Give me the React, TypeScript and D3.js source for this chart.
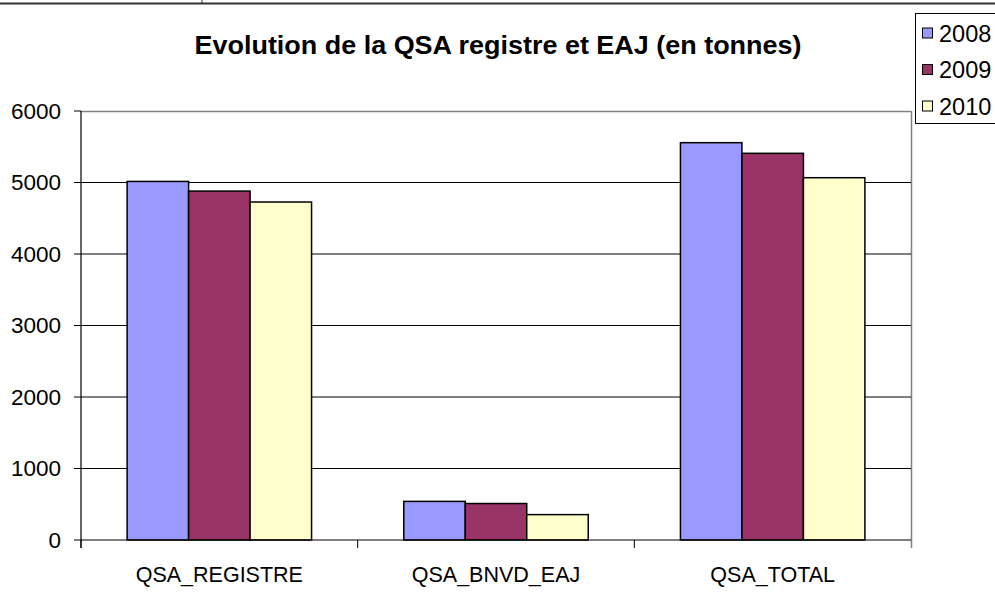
import React from "react";
import * as d3 from "d3";

const categories = ["QSA_REGISTRE", "QSA_BNVD_EAJ", "QSA_TOTAL"];
const years = ["2008", "2009", "2010"];
const values2008 = [5015, 540, 5557];
const values2009 = [4880, 510, 5408];
const values2010 = [4727, 355, 5067];
const yTicks = [0, 1000, 2000, 3000, 4000, 5000, 6000];
const colors = ["#9999FF", "#993366", "#FFFFCC"];
const title = "Evolution de la QSA registre et EAJ (en tonnes)";

const series = [values2008, values2009, values2010];

export default function App() {
  const W = 995;
  const H = 612;
  const left = 81;
  const right = 911;
  const top = 111;
  const bottom = 540;

  const x = d3.scaleBand<string>().domain(categories).range([left, right]).paddingInner(0).paddingOuter(0);
  const xi = d3.scaleBand<string>().domain(years).range([0, x.bandwidth()]).paddingInner(0).paddingOuter(0.75);
  const y = d3.scaleLinear().domain([0, 6000]).range([bottom, top]);

  const font = "'Liberation Sans', Arial, sans-serif";
  const xTickPos = [left, ...categories.map((c) => (x(c) as number) + x.bandwidth())];

  return (
    <svg
      width={W}
      height={H}
      style={{ position: "absolute", left: 0, top: 0, background: "#fff" }}
      fontFamily={font}
    >
      <rect x={0} y={0} width={W} height={H} fill="#fff" />
      {/* top frame line */}
      <line x1={0} x2={W} y1={3.5} y2={3.5} stroke="#333" strokeWidth={2} />
      <line x1={202} x2={202} y1={0} y2={3} stroke="#333" strokeWidth={1} />

      {/* title */}
      <text x={498} y={54} textAnchor="middle" fontSize={25.5} fontWeight="bold" fill="#000" textLength={607} lengthAdjust="spacingAndGlyphs">
        {title}
      </text>

      {/* plot border (grey) */}
      <line x1={left} x2={right} y1={top + 0.5} y2={top + 0.5} stroke="#808080" strokeWidth={1.5} />
      <line x1={right + 0.5} x2={right + 0.5} y1={top} y2={bottom + 8} stroke="#808080" strokeWidth={1.5} />

      {/* gridlines */}
      {yTicks.filter((t) => t > 0 && t < 6000).map((t) => (
        <line key={t} x1={left} x2={right} y1={y(t)} y2={y(t)} stroke="#000" strokeWidth={1} />
      ))}

      {/* bars */}
      {categories.map((c, ci) =>
        years.map((yr, si) => {
          const v = series[si][ci];
          const bx = (x(c) as number) + (xi(yr) as number);
          return (
            <rect
              key={c + yr}
              x={bx}
              y={y(v)}
              width={xi.bandwidth()}
              height={y(0) - y(v)}
              fill={colors[si]}
              stroke="#000"
              strokeWidth={1.5}
            />
          );
        })
      )}

      {/* axes */}
      <line x1={left} x2={left} y1={top} y2={bottom + 8} stroke="#000" strokeWidth={1.2} />
      <line x1={left} x2={right} y1={bottom} y2={bottom} stroke="#000" strokeWidth={1.2} />
      {yTicks.map((t) => (
        <g key={t}>
          <line x1={left - 7} x2={left} y1={y(t)} y2={y(t)} stroke="#000" strokeWidth={1} />
          <text x={61} y={y(t) + 7.5} textAnchor="end" fontSize={22.5} fill="#000">
            {t}
          </text>
        </g>
      ))}
      {xTickPos.slice(0, 3).map((p, i) => (
        <line key={i} x1={p} x2={p} y1={bottom} y2={bottom + 8} stroke="#000" strokeWidth={1} />
      ))}
      {categories.map((c) => (
        <text key={c} x={(x(c) as number) + x.bandwidth() / 2} y={582} textAnchor="middle" fontSize={21.5} fill="#000">
          {c}
        </text>
      ))}

      {/* legend */}
      <rect x={915.5} y={13.5} width={100} height={110} fill="#fff" stroke="#000" strokeWidth={1} />
      {years.map((yr, i) => {
        const cy = 33 + i * 36.5;
        return (
          <g key={yr}>
            <rect x={922.5} y={cy - 5} width={10} height={10} fill={colors[i]} stroke="#000" strokeWidth={1} />
            <text x={939} y={cy + 8.5} fontSize={23.5} fill="#000">
              {yr}
            </text>
          </g>
        );
      })}
    </svg>
  );
}
